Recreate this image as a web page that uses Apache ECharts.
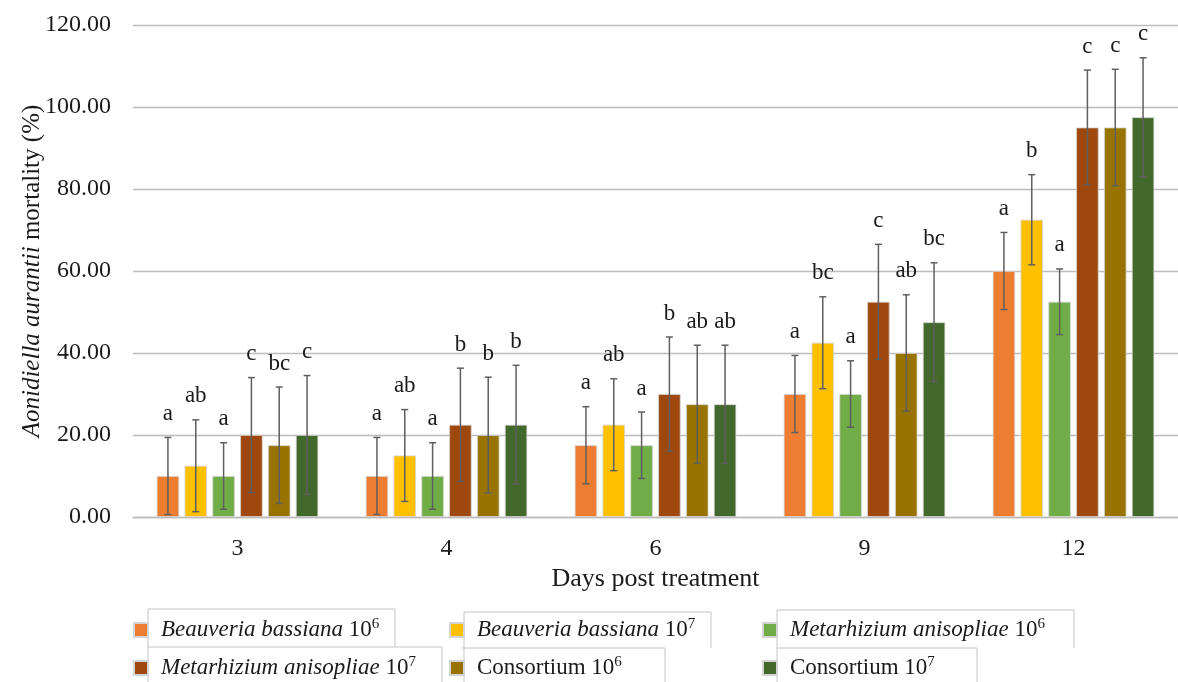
<!DOCTYPE html>
<html>
<head>
<meta charset="utf-8">
<script src="https://cdn.jsdelivr.net/npm/echarts@6/dist/echarts.min.js"></script>
<style>
html,body{margin:0;padding:0;background:#fff;}
#main{width:1178px;height:682px;}
</style>
</head>
<body>
<div id="main"></div>
<script>
// ---- data ----
var categories = ['3', '4', '6', '9', '12'];
var seriesNames = ['Beauveria bassiana 10^6', 'Beauveria bassiana 10^7', 'Metarhizium anisopliae 10^6',
                   'Metarhizium anisopliae 10^7', 'Consortium 10^6', 'Consortium 10^7'];
var bb6 = [10, 10, 17.5, 30, 60];
var bb7 = [12.5, 15, 22.5, 42.5, 72.5];
var ma6 = [10, 10, 17.5, 30, 52.5];
var ma7 = [20, 22.5, 30, 52.5, 95];
var co6 = [17.5, 20, 27.5, 40, 95];
var co7 = [20, 22.5, 27.5, 47.5, 97.5];
var bb6Err = [9.4, 9.4, 9.4, 9.4, 9.4];
var bb7Err = [11.2, 11.2, 11.2, 11.2, 11.0];
var ma6Err = [8.1, 8.1, 8.1, 8.1, 8.0];
var ma7Err = [14.0, 13.8, 13.9, 14.0, 14.0];
var co6Err = [14.2, 14.1, 14.4, 14.2, 14.2];
var co7Err = [14.5, 14.5, 14.4, 14.5, 14.5];
var bb6Let = ['a', 'a', 'a', 'a', 'a'];
var bb7Let = ['ab', 'ab', 'ab', 'bc', 'b'];
var ma6Let = ['a', 'a', 'a', 'a', 'a'];
var ma7Let = ['c', 'b', 'b', 'c', 'c'];
var co6Let = ['bc', 'b', 'ab', 'ab', 'c'];
var co7Let = ['c', 'b', 'ab', 'bc', 'c'];
var yTicks = [0, 20, 40, 60, 80, 100, 120];

// ---- styling ----
var colors = ['#ED7D31', '#FFC000', '#70AD47', '#9E480E', '#997300', '#43682B'];
var FONT = 'Liberation Serif';
var BAR_GAP = 0.24, CAT_GAP = 0.227;

var values = [bb6, bb7, ma6, ma7, co6, co7];
var errs = [bb6Err, bb7Err, ma6Err, ma7Err, co6Err, co7Err];
var lets = [bb6Let, bb7Let, ma6Let, ma7Let, co6Let, co7Let];

var series = [];
values.forEach(function (v, i) {
  series.push({
    name: seriesNames[i],
    type: 'bar',
    data: v,
    barGap: (BAR_GAP * 100) + '%',
    barCategoryGap: (CAT_GAP * 100) + '%',
    itemStyle: { color: colors[i], borderColor: '#d4d4d4', borderWidth: 0.8 },
    emphasis: { disabled: true }
  });
});

var errData = [];
values.forEach(function (v, s) {
  v.forEach(function (val, c) {
    errData.push([c, val, errs[s][c], s, lets[s][c]]);
  });
});

series.push({
  type: 'custom',
  name: 'err',
  z: 10,
  clip: false,
  silent: true,
  encode: { x: 0, y: 1 },
  data: errData,
  renderItem: function (params, api) {
    var c = api.value(0), val = api.value(1), e = api.value(2), s = api.value(3);
    var letter = errData[params.dataIndex][4];
    var band = api.size([1, 0])[0];
    var n = 6;
    var bw = band * (1 - CAT_GAP) / (n + (n - 1) * BAR_GAP);
    var pitch = bw * (1 + BAR_GAP);
    var center = api.coord([c, val]);
    var x = center[0] + (s - (n - 1) / 2) * pitch;
    var yTop = api.coord([c, val + e])[1];
    var yBot = api.coord([c, Math.max(val - e, 0)])[1];
    var cap = 3.5;
    var st = { stroke: '#5f5f5f', lineWidth: 1.5 };
    return {
      type: 'group',
      children: [
        { type: 'line', shape: { x1: x, y1: yTop, x2: x, y2: yBot }, style: st },
        { type: 'line', shape: { x1: x - cap, y1: yTop, x2: x + cap, y2: yTop }, style: st },
        { type: 'line', shape: { x1: x - cap, y1: yBot, x2: x + cap, y2: yBot }, style: st },
        { type: 'text', x: x, y: yTop - 12,
          style: { text: letter, fill: '#1a1a1a', font: '23px "' + FONT + '"',
                   textAlign: 'center', textVerticalAlign: 'bottom' } }
      ]
    };
  }
});

var legendRich = {
  g: { width: 8 },
  i: { fontFamily: FONT, fontStyle: 'italic', fontSize: 23, color: '#1a1a1a', lineHeight: 26 },
  n: { fontFamily: FONT, fontSize: 23, color: '#1a1a1a', lineHeight: 26 },
  s: { fontFamily: FONT, fontSize: 15, color: '#1a1a1a', lineHeight: 15, verticalAlign: 'top' }
};
function legendFmt(name) {
  var parts = name.split(' 10^');
  var label = parts[0], exp = parts[1];
  if (label === 'Consortium') return '{g|}{n|' + label + ' 10}{s|' + exp + '}';
  return '{g|}{i|' + label + '}{n| 10}{s|' + exp + '}';
}
function mkLegend(left, top, name) {
  return {
    left: left, top: top, orient: 'horizontal', padding: 0,
    itemWidth: 14, itemHeight: 14, icon: 'rect',
    data: [name], formatter: legendFmt, selectedMode: false,
    textStyle: { rich: legendRich, fontFamily: FONT, fontSize: 23 }
  };
}

var boxStyle = { stroke: '#c4c4c4', lineWidth: 1, fill: null };
function pl(points) { return { type: 'polyline', shape: { points: points }, style: boxStyle, silent: true, z: -1 }; }

var chart = echarts.init(document.getElementById('main'));
chart.setOption({
  animation: false,
  color: colors,
  textStyle: { fontFamily: FONT },
  grid: { left: 133, right: -6, top: 25, bottom: 165, containLabel: false },
  xAxis: {
    type: 'category', data: categories,
    axisTick: { show: false },
    axisLine: { lineStyle: { color: '#bcbcbc', width: 1.3 } },
    axisLabel: { fontFamily: FONT, fontSize: 24, color: '#1a1a1a', margin: 20 },
    name: 'Days post treatment', nameLocation: 'middle', nameGap: 49, nameMoveOverlap: false,
    nameTextStyle: { fontFamily: FONT, fontSize: 26, color: '#1a1a1a' }
  },
  yAxis: {
    type: 'value', min: yTicks[0], max: yTicks[yTicks.length - 1], interval: yTicks[1] - yTicks[0],
    axisLine: { show: false }, axisTick: { show: false },
    splitLine: { lineStyle: { color: '#bcbcbc', width: 1.3 } },
    axisLabel: { fontFamily: FONT, fontSize: 24, color: '#1a1a1a', margin: 22,
                 formatter: function (v) { return v.toFixed(2); } },
    name: '{i|Aonidiella aurantii} mortality (%)', nameLocation: 'middle', nameGap: 88,
    nameMoveOverlap: false,
    nameTextStyle: { fontFamily: FONT, fontSize: 25, color: '#1a1a1a',
      rich: { i: { fontFamily: FONT, fontStyle: 'italic', fontSize: 25, color: '#1a1a1a' } } }
  },
  legend: [
    mkLegend(133, 617, seriesNames[0]),
    mkLegend(449, 617, seriesNames[1]),
    mkLegend(762, 617, seriesNames[2]),
    mkLegend(133, 655, seriesNames[3]),
    mkLegend(449, 655, seriesNames[4]),
    mkLegend(762, 655, seriesNames[5])
  ],
  graphic: [
    pl([[148, 682], [148, 609], [395, 609], [395, 647]]),
    pl([[148, 647], [442, 647], [442, 682]]),
    pl([[464, 682], [464, 612], [711, 612], [711, 648]]),
    pl([[462, 648], [665, 648], [665, 682]]),
    pl([[777, 682], [777, 610], [1074, 610], [1074, 648]]),
    pl([[777, 648], [977, 648], [977, 682]])
  ],
  series: series
});
</script>
</body>
</html>
